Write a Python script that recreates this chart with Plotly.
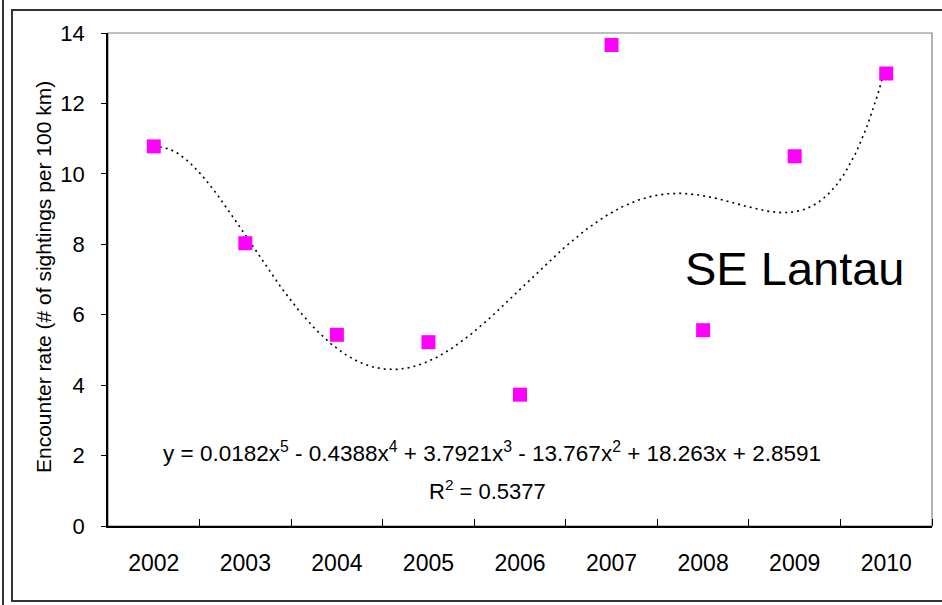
import numpy as np
import plotly.graph_objects as go

years = [2002, 2003, 2004, 2005, 2006, 2007, 2008, 2009, 2010]
rates = [10.78, 8.03, 5.43, 5.22, 3.73, 13.66, 5.56, 10.50, 12.85]
year_labels = [str(y) for y in years]
y_ticks = [0, 2, 4, 6, 8, 10, 12, 14]

# 5th-order polynomial trendline (Excel-style, x = 1..9)
t = np.arange(1, len(years) + 1)
coef = np.polyfit(t, rates, 5)
tf = np.linspace(1, len(years), 400)
trend_x = years[0] - 1 + tf
trend_y = np.polyval(coef, tf)

FONT = "Liberation Sans, Arial, sans-serif"

fig = go.Figure()
fig.add_trace(go.Scatter(
    x=trend_x, y=trend_y, mode="lines",
    line=dict(color="black", width=1.6, dash="2px,4px"),
    hoverinfo="skip", showlegend=False))
fig.add_trace(go.Scatter(
    x=years, y=rates, mode="markers",
    marker=dict(symbol="square", size=14, color="#FF00FF", line=dict(width=0)),
    showlegend=False))

fig.update_layout(
    width=942, height=605,
    margin=dict(l=108, r=10, t=33, b=79),
    paper_bgcolor="white", plot_bgcolor="white",
    font=dict(family=FONT, color="black"),
    xaxis=dict(
        range=[years[0] - 0.5, years[-1] + 0.5],
        tickmode="array", tickvals=years, ticktext=year_labels,
        ticks="", showgrid=False, zeroline=False,
        showline=True, linecolor="black", linewidth=1.5,
        tickfont=dict(size=23, family=FONT),
        ticklabelstandoff=16,
        minor=dict(tickmode="array",
                   tickvals=[y + 0.5 for y in years],
                   ticks="inside", ticklen=7, tickwidth=1, tickcolor="black",
                   showgrid=False),
    ),
    yaxis=dict(
        range=[0, 14], tickmode="array", tickvals=y_ticks,
        ticks="outside", ticklen=5, tickwidth=1, tickcolor="black",
        showgrid=False, zeroline=False,
        showline=True, linecolor="black", linewidth=1.5,
        tickfont=dict(size=22, family=FONT),
        ticklabelstandoff=12,
    ),
    shapes=[
        # plot-area frame (grey top/right)
        dict(type="rect", xref="paper", yref="paper", x0=0, x1=1, y0=0, y1=1,
             line=dict(color="#808080", width=1.2), layer="below"),
        # outer chart frame
        dict(type="rect", xref="paper", yref="paper",
             x0=(12 - 108) / 824, x1=(950 - 108) / 824,
             y0=(526 - 601) / 493, y1=(526 - 10) / 493,
             line=dict(color="#333333", width=2)),
        dict(type="line", xref="paper", yref="paper",
             x0=(3 - 108) / 824, x1=(3 - 108) / 824,
             y0=(526 - 610) / 493, y1=(526 + 5) / 493,
             line=dict(color="#333333", width=2)),
    ],
    annotations=[
        dict(text="Encounter rate (# of sightings per 100 km)",
             xref="paper", yref="paper", x=(43 - 108) / 824, y=(526 - 277) / 493,
             textangle=-90, showarrow=False, font=dict(size=21, family=FONT),
             xanchor="center", yanchor="middle"),
        dict(text="SE Lantau", x=2009.0, y=7.3, showarrow=False,
             font=dict(size=47, family=FONT), xanchor="center", yanchor="middle"),
        dict(text="y = 0.0182x<sup>5</sup> - 0.4388x<sup>4</sup> + 3.7921x<sup>3</sup> - 13.767x<sup>2</sup> + 18.263x + 2.8591",
             x=2005.69, y=2.1, showarrow=False, font=dict(size=22.5, family=FONT),
             xanchor="center", yanchor="middle"),
        dict(text="R<sup>2</sup> = 0.5377", x=2005.64, y=1.01, showarrow=False,
             font=dict(size=22, family=FONT), xanchor="center", yanchor="middle"),
    ],
)

fig.write_html("out.html")
